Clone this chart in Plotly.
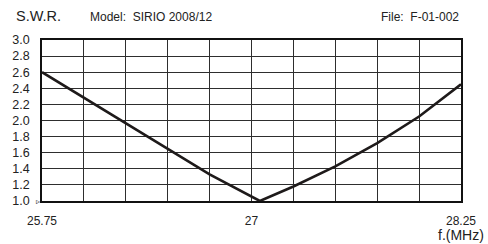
import plotly.graph_objects as go

freq_mhz = [25.75, 26.0, 26.25, 26.5, 26.75, 27.05, 27.25, 27.5, 27.75, 28.0, 28.25]
swr = [2.60, 2.28, 1.97, 1.65, 1.33, 1.00, 1.18, 1.43, 1.72, 2.05, 2.45]

x_tick_vals = [25.75, 27, 28.25]
x_tick_text = ["25.75", "27", "28.25"]
y_tick_vals = [1.0, 1.2, 1.4, 1.6, 1.8, 2.0, 2.2, 2.4, 2.6, 2.8, 3.0]
y_tick_text = [f"{v:.1f}" for v in y_tick_vals]

FONT = "Liberation Sans"
TXT = "#222222"

fig = go.Figure()
fig.add_trace(go.Scatter(
    x=freq_mhz, y=swr, mode="lines",
    line=dict(color="#1e1a1a", width=2.6),
    hoverinfo="skip", showlegend=False,
))

fig.update_layout(
    width=488, height=244,
    margin=dict(l=36, r=26, t=40, b=43),
    paper_bgcolor="white", plot_bgcolor="white",
    font=dict(family=FONT, color=TXT, size=12),
    showlegend=False,
    xaxis=dict(
        range=[25.75, 28.25],
        tickmode="array", tickvals=x_tick_vals, ticktext=x_tick_text,
        showgrid=True, gridcolor="#2e2e2e", gridwidth=1,
        minor=dict(tick0=25.75, dtick=0.25, showgrid=True, gridcolor="#2e2e2e", gridwidth=1),
        showline=True, linecolor="#111111", linewidth=1.5, mirror=True,
        zeroline=False, ticks="", ticklabelstandoff=8,
        tickfont=dict(size=12, color=TXT, family=FONT),
    ),
    yaxis=dict(
        range=[1.0, 3.0],
        tickmode="array", tickvals=y_tick_vals, ticktext=y_tick_text,
        showgrid=True, gridcolor="#2e2e2e", gridwidth=1,
        showline=True, linecolor="#111111", linewidth=1.5, mirror=True,
        zeroline=False, ticks="", ticklabelstandoff=8,
        tickfont=dict(size=12.5, color=TXT, family=FONT),
    ),
)

anns = [
    dict(text="S.W.R.", x=8, y=16, size=14.5),
    dict(text="Model:  SIRIO 2008/12", x=83, y=17, size=12),
]
for a in anns:
    fig.add_annotation(text=a["text"], xref="paper", yref="paper",
                       x=(a["x"] - 36) / 426, y=1 + (40 - a["y"]) / 161,
                       xanchor="left", yanchor="middle", showarrow=False,
                       font=dict(size=a["size"], color=TXT, family=FONT))
fig.add_annotation(text="File:  F-01-002", xref="paper", yref="paper",
                   x=1, y=1 + (40 - 17) / 161, xanchor="right", yanchor="middle",
                   showarrow=False, font=dict(size=12, color=TXT, family=FONT))
fig.add_annotation(text="f.(MHz)", xref="paper", yref="paper",
                   x=(488 - 36 - 1) / 426, y=-(235 - 201) / 161, xanchor="right", yanchor="middle",
                   showarrow=False, font=dict(size=14, color=TXT, family=FONT))
fig.add_annotation(text="▹", xref="paper", yref="paper",
                   x=-4 / 426, y=0, xanchor="center", yanchor="middle",
                   showarrow=False, font=dict(size=8, color=TXT, family="DejaVu Sans"))

fig.write_html("out.html", config={"displayModeBar": False},
               post_script="document.body.style.margin='0';document.body.style.padding='0';")
